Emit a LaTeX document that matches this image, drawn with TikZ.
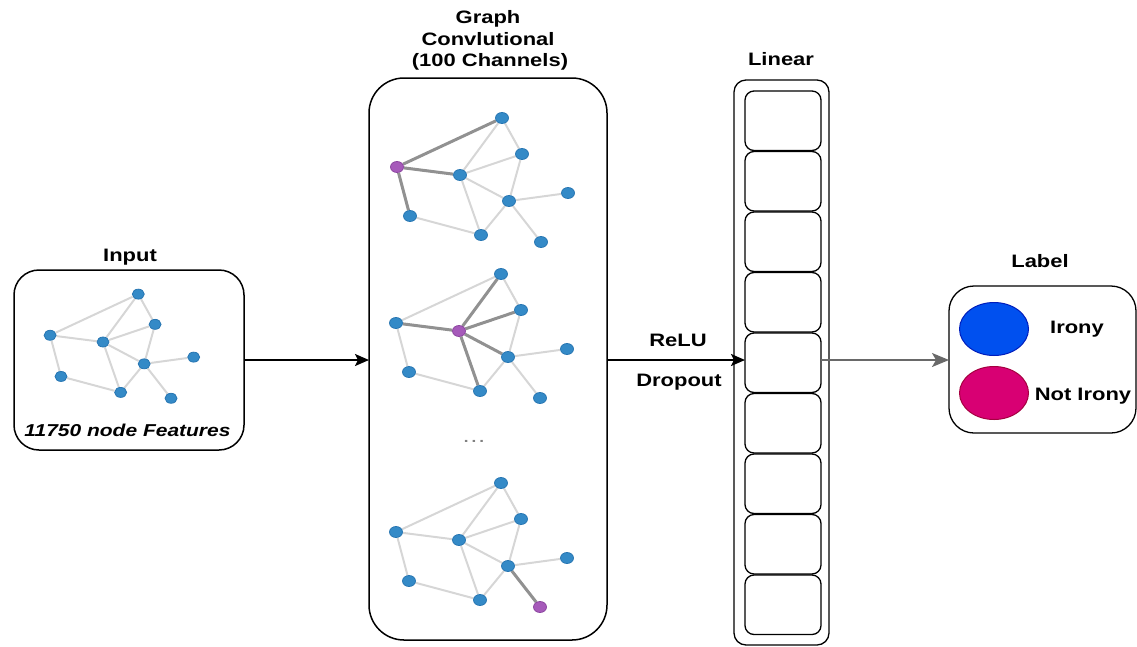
\documentclass[tikz,border=0pt]{standalone}
\usepackage{fontspec}
\setmainfont[FakeStretch=1.22]{Liberation Sans}
\usetikzlibrary{arrows.meta,shapes.geometric}
\pgfdeclarelayer{edgelayer}
\pgfsetlayers{edgelayer,main}
\definecolor{vblue}{RGB}{52,138,199}
\definecolor{vbluedk}{RGB}{40,118,178}
\definecolor{vpurple}{RGB}{166,90,186}
\definecolor{vpurpledk}{RGB}{140,70,160}
\definecolor{ledge}{RGB}{214,214,214}
\definecolor{dedge}{RGB}{145,145,145}
\definecolor{irblue}{HTML}{0050EF}
\definecolor{irbluedk}{HTML}{001DBC}
\definecolor{nirmag}{HTML}{D80073}
\definecolor{nirmagdk}{HTML}{A50040}
\definecolor{garrow}{RGB}{105,105,105}
\tikzset{
  lbl/.style={font=\bfseries\fontsize{18}{21}\selectfont, anchor=base, inner sep=0pt},
  vtx/.style={ellipse, fill=vblue, draw=vbluedk, line width=0.8pt, inner sep=0pt, minimum width=13pt, minimum height=11pt},
  smallvtx/.style={minimum width=12pt, minimum height=10pt},
  pvtx/.style={fill=vpurple, draw=vpurpledk},
  vA/.style={}, vB/.style={}, vC/.style={}, vD/.style={}, vE/.style={},
  vF/.style={}, vG/.style={}, vH/.style={}, vI/.style={},
  lightedge/.style={draw=ledge, line width=2pt},
  darkedge/.style={draw=dedge, line width=3pt},
  roundbox/.style={draw=black, line width=1.5pt, outer sep=0pt, inner sep=0pt},
  cellbox/.style={draw=black, line width=1.3pt, rounded corners=9pt, outer sep=0pt, inner sep=0pt, minimum width=76pt, minimum height=59.5pt},
  blackarrow/.style={draw=black, line width=2pt, -{Stealth[length=14pt,width=12pt,inset=3pt]}},
  grayarrow/.style={draw=garrow, line width=1.6pt, -{Stealth[length=17pt,width=14pt,inset=4pt]}},
  netgraph/.pic={
    \node[vtx,vA] (-A) at (42,-57) {};
    \node[vtx,vB] (-B) at (62,-21) {};
    \node[vtx,vC] (-C) at (-63,-8) {};
    \node[vtx,vD] (-D) at (0,0) {};
    \node[vtx,vE] (-E) at (49,26) {};
    \node[vtx,vF] (-F) at (108,18) {};
    \node[vtx,vG] (-G) at (-50,41) {};
    \node[vtx,vH] (-H) at (21,60) {};
    \node[vtx,vI] (-I) at (81,67) {};
  }
}
\begin{document}
\begin{tikzpicture}[x=1pt, y=-1pt]
\useasboundingbox (0,0) rectangle (1137,646);

% ---------- Input ----------
\node[lbl] (tinput) at (130,261.5) {Input};
\node[roundbox, rounded corners=25pt, minimum width=230pt, minimum height=180pt] (inp) at (129,360) {};
\pic (in) [scale=0.84, vA/.style=smallvtx, vB/.style=smallvtx, vC/.style=smallvtx, vD/.style=smallvtx, vE/.style=smallvtx, vF/.style=smallvtx, vG/.style=smallvtx, vH/.style=smallvtx, vI/.style=smallvtx] at (103,342) {netgraph};
\node[lbl, font=\bfseries\itshape\fontsize{17.2}{21}\selectfont] (tfeat) at (127.5,436.5) {11750 node Features};

% ---------- Graph convolutional ----------
\node[lbl] (tg1) at (488,23.3) {Graph};
\node[lbl] (tg2) at (488,45) {Convlutional};
\node[lbl] (tg3) at (490,66.5) {(100 Channels)};
\node[roundbox, rounded corners=35pt, minimum width=238pt, minimum height=562pt] (gc) at (488,359) {};
\pic (g1) [vC/.style=pvtx] at (460,175) {netgraph};
\pic (g2) [vD/.style=pvtx] at (459,331) {netgraph};
\pic (g3) [vI/.style=pvtx] at (459,540) {netgraph};
\node[text=gray, font=\bfseries\fontsize{14}{14}\selectfont, inner sep=0pt] (dots) at (474,441) {.\hspace{3pt}.\hspace{3pt}.};

% ---------- edges ----------
\begin{pgfonlayer}{edgelayer}
\foreach \g in {in,g1,g2,g3} {
  \foreach \a/\b in {C/A,A/D,A/B,C/D,D/B,D/E,B/E,E/F,D/H,E/H,E/I,C/G,G/H}
    \draw[lightedge] (\g-\a) -- (\g-\b);
}
\foreach \a/\b in {C/A,C/D,C/G} \draw[darkedge] (g1-\a) -- (g1-\b);
\foreach \a/\b in {D/A,D/B,D/C,D/E,D/H} \draw[darkedge] (g2-\a) -- (g2-\b);
\draw[darkedge] (g3-E) -- (g3-I);
\end{pgfonlayer}

% ---------- Linear ----------
\node[lbl] (tlin) at (781,65) {Linear};
\node[roundbox, line width=1.3pt, rounded corners=12pt, minimum width=95pt, minimum height=565pt] (lin) at (781.5,362.5) {};
\foreach \i in {1,...,9}
  \node[cellbox] (cell\i) at (783,{91+(\i-1)*60.5+29.75}) {};

% ---------- Label ----------
\node[lbl] (tlab) at (1040,267) {Label};
\node[roundbox, line width=1.3pt, rounded corners=25pt, minimum width=187pt, minimum height=147pt] (lab) at (1042.5,359.5) {};
\node[ellipse, fill=irblue, draw=irbluedk, line width=1pt, minimum width=69pt, minimum height=53pt, inner sep=0pt] (irony) at (994,329) {};
\node[ellipse, fill=nirmag, draw=nirmagdk, line width=1pt, minimum width=69pt, minimum height=53pt, inner sep=0pt] (notirony) at (994,393) {};
\node[lbl] (tirony) at (1077,333.3) {Irony};
\node[lbl] (tnotirony) at (1083,400) {Not Irony};

% ---------- arrows ----------
\draw[blackarrow] (inp.east) -- (gc.west |- inp.east);
\draw[blackarrow] (gc.east |- 0,360) -- (cell5.west |- 0,360);
\node[lbl] (trelu) at (678,346) {ReLU};
\node[lbl] (tdrop) at (679,386) {Dropout};
\draw[grayarrow] (cell5.east |- 0,360) -- (lab.west |- 0,360);
\end{tikzpicture}
\end{document}
